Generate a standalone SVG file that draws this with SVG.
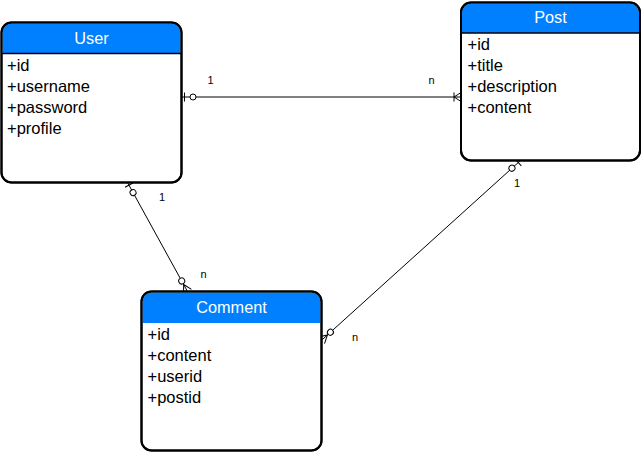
<svg xmlns="http://www.w3.org/2000/svg" width="643" height="455" viewBox="0 0 643 455">
  <style>
    .box { fill: #ffffff; stroke: #000000; stroke-width: 2; }
    .hdr { fill: #007fff; stroke: none; }
    .div { stroke: #000000; stroke-width: 1.5; }
    .title { font-family: "Liberation Sans", Arial, sans-serif; font-size: 16.3px; fill: #ffffff; text-anchor: middle; }
    .attr { font-family: "Liberation Sans", Arial, sans-serif; font-size: 16.5px; fill: #000000; }
    .lbl { font-family: "Liberation Sans", Arial, sans-serif; font-size: 11px; fill: #000000; text-anchor: middle; }
    .edge { fill: none; stroke: #000000; stroke-width: 1; }
    .mk { fill: none; stroke: #000000; stroke-width: 1; }
    .mkc { fill: #ffffff; stroke: #000000; stroke-width: 1; }
  </style>
  <defs>
    <marker id="zeroOne" markerUnits="userSpaceOnUse" markerWidth="30" markerHeight="30" refX="0" refY="0" orient="auto-start-reverse" overflow="visible">
      <path class="mk" d="M-3,-4.5 V4.5"/>
      <circle class="mkc" cx="-11.5" cy="0" r="3"/>
    </marker>
    <marker id="oneMany" markerUnits="userSpaceOnUse" markerWidth="30" markerHeight="30" refX="0" refY="0" orient="auto" overflow="visible">
      <path class="mk" d="M0,-4.5 L-7,0 L0,4.5 M-7,-4.5 V4.5"/>
    </marker>
    <marker id="zeroMany" markerUnits="userSpaceOnUse" markerWidth="30" markerHeight="30" refX="0" refY="0" orient="auto" overflow="visible">
      <path class="mk" d="M0,-4.5 L-8,0 L0,4.5"/>
      <circle class="mkc" cx="-12" cy="0" r="3"/>
    </marker>
  </defs>

  <g id="connectors">
    <path id="user-post" class="edge" d="M181.5,97 H461" marker-start="url(#zeroOne)" marker-end="url(#oneMany)"/>
    <path id="user-comment" class="edge" d="M127.5,182.5 L187.5,291.5" marker-start="url(#zeroOne)" marker-end="url(#zeroMany)"/>
    <path id="post-comment" class="edge" d="M520.5,160.5 L321.5,340.3" marker-start="url(#zeroOne)" marker-end="url(#zeroMany)"/>
    <text class="lbl" x="210.5" y="84">1</text>
    <text class="lbl" x="431.5" y="84">n</text>
    <text class="lbl" x="162" y="201">1</text>
    <text class="lbl" x="203.5" y="278">n</text>
    <text class="lbl" x="517" y="187">1</text>
    <text class="lbl" x="355" y="341">n</text>
  </g>

  <g id="user">
    <rect class="box" x="1.5" y="22.5" width="180" height="160" rx="10" ry="10"/>
    <path class="hdr" d="M2.5,53.5 V32.5 A9,9 0 0 1 11.5,23.5 H171.5 A9,9 0 0 1 180.5,32.5 V53.5 Z"/>
    <line class="div" x1="1.5" y1="53.5" x2="181.5" y2="53.5"/>
    <rect x="1.5" y="22.5" width="180" height="160" rx="10" ry="10" fill="none" stroke="#000" stroke-width="2"/>
    <text class="title" x="91.5" y="44">User</text>
    <text class="attr" x="7" y="71">+id</text>
    <text class="attr" x="7" y="92">+username</text>
    <text class="attr" x="7" y="113">+password</text>
    <text class="attr" x="7" y="134">+profile</text>
  </g>

  <g id="post">
    <rect class="box" x="461" y="2.5" width="179" height="158" rx="10" ry="10"/>
    <path class="hdr" d="M462,33 V12.5 A9,9 0 0 1 471,3.5 H630 A9,9 0 0 1 639,12.5 V33 Z"/>
    <line class="div" x1="461" y1="33" x2="640" y2="33"/>
    <rect x="461" y="2.5" width="179" height="158" rx="10" ry="10" fill="none" stroke="#000" stroke-width="2"/>
    <text class="title" x="550.5" y="23">Post</text>
    <text class="attr" x="467.5" y="50">+id</text>
    <text class="attr" x="467.5" y="71">+title</text>
    <text class="attr" x="467.5" y="92">+description</text>
    <text class="attr" x="467.5" y="113">+content</text>
  </g>

  <g id="comment">
    <rect class="box" x="141.5" y="291.5" width="180" height="159" rx="10" ry="10"/>
    <path class="hdr" d="M142.5,323 V301.5 A9,9 0 0 1 151.5,292.5 H311.5 A9,9 0 0 1 320.5,301.5 V323 Z"/>
    <rect x="141.5" y="291.5" width="180" height="159" rx="10" ry="10" fill="none" stroke="#000" stroke-width="2"/>
    <text class="title" x="231.5" y="313">Comment</text>
    <text class="attr" x="147.5" y="340">+id</text>
    <text class="attr" x="147.5" y="361">+content</text>
    <text class="attr" x="147.5" y="382">+userid</text>
    <text class="attr" x="147.5" y="403">+postid</text>
  </g>
</svg>
